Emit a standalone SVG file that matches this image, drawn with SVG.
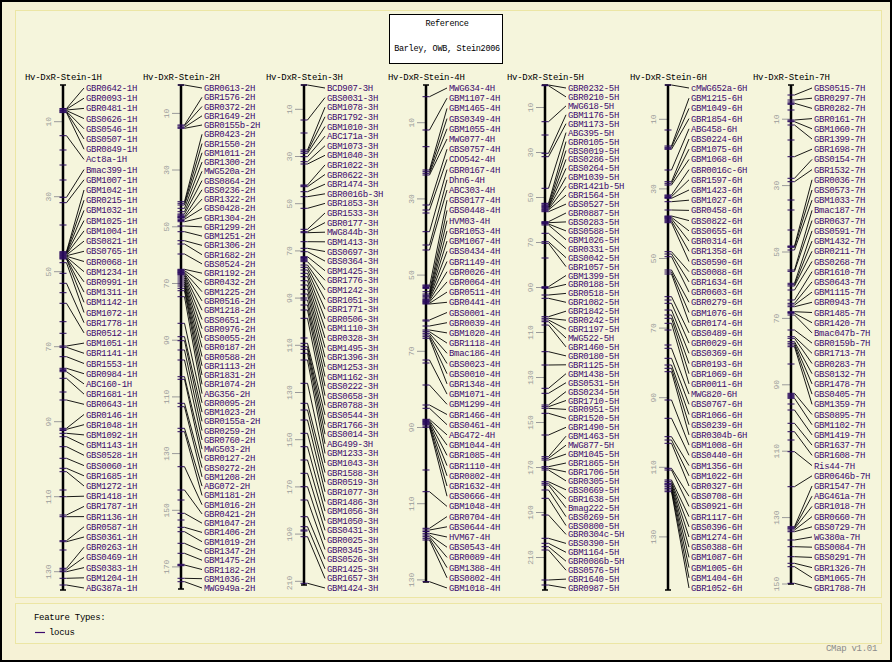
<svg xmlns="http://www.w3.org/2000/svg" width="892" height="662" viewBox="0 0 892 662">
<style>
text{font-family:"Liberation Mono","DejaVu Sans Mono",monospace;font-size:9px;letter-spacing:-0.3px}
.lb{fill:#3c0a6e}
.ttl{fill:#000}
.sm{font-size:8.5px}
.sc text{fill:#9a9a9a;font-size:8px;text-anchor:middle;letter-spacing:0}
.ax{stroke:#000;stroke-width:2.5;fill:none}
.cap{stroke:#000;stroke-width:1.5;fill:none}
.ft{stroke:#2a0a5e;stroke-width:1;fill:none}
.st{stroke:#9a9a9a;stroke-width:1;fill:none}
.cn path{stroke:#000;stroke-width:0.9;fill:none}
.pn{fill:#f5f5dc;stroke:#ece6a4;stroke-width:1}
</style>
<rect width="892" height="662" fill="#f6f2d6"/>
<rect x="1" y="1" width="890" height="660" fill="none" stroke="#000" stroke-width="2"/>
<rect class="pn" x="15.5" y="10.5" width="866" height="587"/>
<rect class="pn" x="15.5" y="603.5" width="866" height="40"/>
<g id="reference">
<rect x="389.5" y="14.5" width="113" height="49" fill="#fff" stroke="#000"/>
<text class="ttl sm" x="447" y="25.5" text-anchor="middle">Reference</text>
<text class="ttl sm" x="447" y="50.5" text-anchor="middle">Barley, OWB, Stein2006</text>
</g>
<g id="legend">
<text class="ttl" x="34" y="620">Feature Types:</text>
<path d="M35 632.5h10" stroke="#3c0a6e" stroke-width="1.2"/>
<text class="ttl" x="49" y="635">locus</text>
<text x="877" y="651" text-anchor="end" fill="#8a8a8a">CMap v1.01</text>
</g>

<g id="connectors" class="cn">
<path transform="translate(63,0)" d="M3.5 108.5L21 88M3.5 109.2L21 98.2M3.5 110L21 108.4M3.5 110.6L21 118.6M3.5 111.3L21 128.8M3.5 112L21 139M3.5 112.6L21 149.2M3.5 135.7L21 159.4M3.5 197.3L21 169.6M3.5 202.7L21 179.8M3.5 251.7L21 190M3.5 252.3L21 200.2M3.5 253L21 210.4M3.5 253.7L21 220.6M3.5 254.3L21 230.9M3.5 255L21 241.1M3.5 255.7L21 251.3M3.5 256.3L21 261.5M3.5 257L21 271.7M3.5 257.7L21 281.9M3.5 258.3L21 292.1M3.5 259L21 302.3M3.5 262.7L21 312.5M3.5 283.3L21 322.7M3.5 303.3L21 332.9M3.5 346L21 343.1M3.5 347.3L21 353.3M3.5 356.7L21 363.5M3.5 368.3L21 373.7M3.5 371.7L21 383.9M3.5 378.3L21 394.1M3.5 400L21 404.3M3.5 428.3L21 414.5M3.5 429.3L21 424.7M3.5 433.3L21 434.9M3.5 436.7L21 445.1M3.5 446.7L21 455.3M3.5 458.3L21 465.6M3.5 468.3L21 475.8M3.5 471.7L21 486M3.5 496.7L21 496.2M3.5 515L21 506.4M3.5 516.7L21 516.6M3.5 540.7L21 526.8M3.5 541.7L21 537M3.5 568.3L21 547.2M3.5 570L21 557.4M3.5 571.7L21 567.6M3.5 578.3L21 577.8M3.5 585L21 588"/>
<path transform="translate(181,0)" d="M3.5 85L21 88M3.5 125L21 97.3M3.5 126L21 106.5M3.5 127.3L21 115.8M3.5 128.3L21 125M3.5 201.7L21 134.3M3.5 203.3L21 143.6M3.5 205L21 152.8M3.5 208.3L21 162.1M3.5 211.7L21 171.3M3.5 214L21 180.6M3.5 216.7L21 189.8M3.5 218L21 199.1M3.5 219.3L21 208.4M3.5 221.7L21 217.6M3.5 226L21 226.9M3.5 231.7L21 236.1M3.5 240.7L21 245.4M3.5 244L21 254.7M3.5 254L21 263.9M3.5 269.3L21 273.2M3.5 270.7L21 282.4M3.5 272L21 291.7M3.5 273.3L21 300.9M3.5 274.7L21 310.2M3.5 276L21 319.5M3.5 278L21 328.7M3.5 280L21 338M3.5 282L21 347.3M3.5 284L21 356.5M3.5 286L21 365.8M3.5 288.3L21 375M3.5 290.7L21 384.3M3.5 296.7L21 393.6M3.5 323.3L21 402.8M3.5 336.7L21 412.1M3.5 340.7L21 421.3M3.5 350L21 430.6M3.5 360L21 439.9M3.5 376.7L21 449.1M3.5 379.3L21 458.4M3.5 403.3L21 467.6M3.5 406.7L21 476.9M3.5 428.3L21 486.1M3.5 431.7L21 495.4M3.5 466.7L21 504.7M3.5 490L21 513.9M3.5 513.3L21 523.2M3.5 527.3L21 532.4M3.5 531.7L21 541.7M3.5 543.3L21 551M3.5 553.3L21 560.2M3.5 565L21 569.5M3.5 578.3L21 578.7M3.5 581.7L21 588"/>
<path transform="translate(304,0)" d="M3.5 85L21 88M3.5 120L21 97.6M3.5 150L21 107.2M3.5 151.7L21 116.8M3.5 153.3L21 126.5M3.5 156.7L21 136.1M3.5 161.7L21 145.7M3.5 164L21 155.3M3.5 185L21 164.9M3.5 186.7L21 174.5M3.5 191.7L21 184.2M3.5 196.7L21 193.8M3.5 208.3L21 203.4M3.5 229.3L21 213M3.5 231.7L21 222.6M3.5 232.7L21 232.2M3.5 241.7L21 241.8M3.5 248.3L21 251.5M3.5 251.7L21 261.1M3.5 256.7L21 270.7M3.5 261.7L21 280.3M3.5 265L21 289.9M3.5 267.3L21 299.5M3.5 270L21 309.2M3.5 273.3L21 318.8M3.5 276.7L21 328.4M3.5 280.7L21 338M3.5 285L21 347.6M3.5 289.3L21 357.2M3.5 294L21 366.8M3.5 300L21 376.5M3.5 305L21 386.1M3.5 310L21 395.7M3.5 318.3L21 405.3M3.5 343.3L21 414.9M3.5 346.7L21 424.5M3.5 349.3L21 434.2M3.5 353.3L21 443.8M3.5 360L21 453.4M3.5 383.3L21 463M3.5 403.3L21 472.6M3.5 410L21 482.2M3.5 420L21 491.8M3.5 433.3L21 501.5M3.5 446.7L21 511.1M3.5 460L21 520.7M3.5 473.3L21 530.3M3.5 486.7L21 539.9M3.5 500L21 549.5M3.5 516.7L21 559.2M3.5 526.7L21 568.8M3.5 536.7L21 578.4M3.5 583.3L21 588"/>
<path transform="translate(426,0)" d="M3.5 96.7L21 88M3.5 130L21 98.2M3.5 170L21 108.4M3.5 171.7L21 118.6M3.5 173.3L21 128.8M3.5 175L21 139M3.5 205L21 149.2M3.5 210L21 159.4M3.5 231.7L21 169.6M3.5 245L21 179.8M3.5 250L21 190M3.5 286.7L21 200.2M3.5 291.7L21 210.4M3.5 294L21 220.6M3.5 295.3L21 230.9M3.5 296.7L21 241.1M3.5 298L21 251.3M3.5 299.3L21 261.5M3.5 300.7L21 271.7M3.5 302L21 281.9M3.5 303.3L21 292.1M3.5 304L21 302.3M3.5 320L21 312.5M3.5 326L21 322.7M3.5 330L21 332.9M3.5 331.7L21 343.1M3.5 333.3L21 353.3M3.5 335L21 363.5M3.5 336.7L21 373.7M3.5 338.3L21 383.9M3.5 360L21 394.1M3.5 385L21 404.3M3.5 405L21 414.5M3.5 408.3L21 424.7M3.5 419.3L21 434.9M3.5 420.7L21 445.1M3.5 422L21 455.3M3.5 423.3L21 465.6M3.5 424.7L21 475.8M3.5 426L21 486M3.5 427.3L21 496.2M3.5 491.7L21 506.4M3.5 528.3L21 516.6M3.5 530L21 526.8M3.5 533.3L21 537M3.5 535L21 547.2M3.5 536.7L21 557.4M3.5 538.3L21 567.6M3.5 540L21 577.8M3.5 581.7L21 588"/>
<path transform="translate(545,0)" d="M3.5 85L21 88M3.5 85.7L21 96.9M3.5 121.7L21 105.9M3.5 153.3L21 114.8M3.5 156.7L21 123.7M3.5 188.3L21 132.6M3.5 203.3L21 141.6M3.5 205L21 150.5M3.5 206.7L21 159.4M3.5 207.3L21 168.4M3.5 208.3L21 177.3M3.5 209.3L21 186.2M3.5 210L21 195.1M3.5 211.7L21 204.1M3.5 221.7L21 213M3.5 222.7L21 221.9M3.5 224L21 230.9M3.5 225L21 239.8M3.5 233.3L21 248.7M3.5 241.7L21 257.7M3.5 243.3L21 266.6M3.5 286.7L21 275.5M3.5 288.3L21 284.4M3.5 295L21 293.4M3.5 298.3L21 302.3M3.5 316.7L21 311.2M3.5 318.3L21 320.2M3.5 320L21 329.1M3.5 321.7L21 338M3.5 325L21 346.9M3.5 351.7L21 355.9M3.5 365L21 364.8M3.5 388.3L21 373.7M3.5 393.3L21 382.7M3.5 405L21 391.6M3.5 406.7L21 400.5M3.5 408.3L21 409.4M3.5 413.3L21 418.4M3.5 435L21 427.3M3.5 456.7L21 436.2M3.5 458.3L21 445.2M3.5 460L21 454.1M3.5 466.7L21 463M3.5 468.3L21 471.9M3.5 470L21 480.9M3.5 481.7L21 489.8M3.5 483.3L21 498.7M3.5 485L21 507.7M3.5 490L21 516.6M3.5 498.3L21 525.5M3.5 515L21 534.4M3.5 538.3L21 543.4M3.5 543.3L21 552.3M3.5 546.7L21 561.2M3.5 550L21 570.2M3.5 580L21 579.1M3.5 585L21 588"/>
<path transform="translate(668,0)" d="M3.5 85L21 88M3.5 146L21 98.2M3.5 147.3L21 108.4M3.5 149.3L21 118.6M3.5 170L21 128.8M3.5 181.7L21 139M3.5 183.3L21 149.2M3.5 185L21 159.4M3.5 195L21 169.6M3.5 196.7L21 179.8M3.5 198.3L21 190M3.5 201.7L21 200.2M3.5 210L21 210.4M3.5 216L21 220.6M3.5 217.3L21 230.9M3.5 218.7L21 241.1M3.5 220.7L21 251.3M3.5 222.7L21 261.5M3.5 251.7L21 271.7M3.5 254L21 281.9M3.5 256.7L21 292.1M3.5 270L21 302.3M3.5 272L21 312.5M3.5 274L21 322.7M3.5 296.7L21 332.9M3.5 303.3L21 343.1M3.5 310L21 353.3M3.5 315L21 363.5M3.5 318.3L21 373.7M3.5 323.3L21 383.9M3.5 348.3L21 394.1M3.5 358.3L21 404.3M3.5 365L21 414.5M3.5 368.3L21 424.7M3.5 371.7L21 434.9M3.5 400L21 445.1M3.5 418.3L21 455.3M3.5 436.7L21 465.6M3.5 440L21 475.8M3.5 443.3L21 486M3.5 468.3L21 496.2M3.5 470L21 506.4M3.5 480L21 516.6M3.5 481.7L21 526.8M3.5 483.3L21 537M3.5 485L21 547.2M3.5 486.7L21 557.4M3.5 488.3L21 567.6M3.5 490L21 577.8M3.5 491.7L21 588"/>
<path transform="translate(791,0)" d="M3.5 95L21 88M3.5 100L21 98.2M3.5 103.3L21 108.4M3.5 120L21 118.6M3.5 121.7L21 128.8M3.5 125L21 139M3.5 156.7L21 149.2M3.5 178.3L21 159.4M3.5 181.7L21 169.6M3.5 246L21 179.8M3.5 247.3L21 190M3.5 250L21 200.2M3.5 270L21 210.4M3.5 271.3L21 220.6M3.5 283.3L21 230.9M3.5 284.7L21 241.1M3.5 286L21 251.3M3.5 290L21 261.5M3.5 300L21 271.7M3.5 303.3L21 281.9M3.5 305L21 292.1M3.5 306.7L21 302.3M3.5 311.7L21 312.5M3.5 313.3L21 322.7M3.5 315L21 332.9M3.5 330L21 343.1M3.5 336.7L21 353.3M3.5 338.3L21 363.5M3.5 341.7L21 373.7M3.5 343.3L21 383.9M3.5 345L21 394.1M3.5 346.7L21 404.3M3.5 393.3L21 414.5M3.5 398.3L21 424.7M3.5 410L21 434.9M3.5 423.3L21 445.1M3.5 431.7L21 455.3M3.5 451.7L21 465.6M3.5 486.7L21 475.8M3.5 526.7L21 486M3.5 527.7L21 496.2M3.5 528.7L21 506.4M3.5 530L21 516.6M3.5 531.7L21 526.8M3.5 540L21 537M3.5 546.7L21 547.2M3.5 556.7L21 557.4M3.5 563.3L21 567.6M3.5 566.7L21 577.8M3.5 583.3L21 588"/>
</g>

<g id="map-1H" transform="translate(63,0)">
<text class="ttl" x="-38" y="80">Hv-DxR-Stein-1H</text>
<path class="st" d="M-9 121.7h9M-9 196.7h9M-9 271.7h9M-9 346.7h9M-9 421.7h9M-9 496.7h9M-9 571.7h9"/>
<g class="sc"><text x="-12" y="121.7" transform="rotate(-90 -12 121.7)">10</text><text x="-12" y="196.7" transform="rotate(-90 -12 196.7)">30</text><text x="-12" y="271.7" transform="rotate(-90 -12 271.7)">50</text><text x="-12" y="346.7" transform="rotate(-90 -12 346.7)">70</text><text x="-12" y="421.7" transform="rotate(-90 -12 421.7)">90</text><text x="-12" y="496.7" transform="rotate(-90 -12 496.7)">110</text><text x="-12" y="571.7" transform="rotate(-90 -12 571.7)">130</text></g>
<path class="ax" d="M0 85V590"/>
<path class="cap" d="M-3 85h6M-3 590h6"/>
<path class="ft" d="M-3.5 108.5h7M-3.5 109.2h7M-3.5 110h7M-3.5 110.6h7M-3.5 111.3h7M-3.5 112h7M-3.5 112.6h7M-3.5 135.7h7M-3.5 197.3h7M-3.5 202.7h7M-3.5 251.7h7M-3.5 252.3h7M-3.5 253h7M-3.5 253.7h7M-3.5 254.3h7M-3.5 255h7M-3.5 255.7h7M-3.5 256.3h7M-3.5 257h7M-3.5 257.7h7M-3.5 258.3h7M-3.5 259h7M-3.5 262.7h7M-3.5 283.3h7M-3.5 303.3h7M-3.5 346h7M-3.5 347.3h7M-3.5 356.7h7M-3.5 368.3h7M-3.5 369.3h7M-3.5 370.5h7M-3.5 371.7h7M-3.5 378.3h7M-3.5 400h7M-3.5 428.3h7M-3.5 429.3h7M-3.5 430.5h7M-3.5 433.3h7M-3.5 436.7h7M-3.5 446.7h7M-3.5 458.3h7M-3.5 468.3h7M-3.5 471.7h7M-3.5 496.7h7M-3.5 515h7M-3.5 516.7h7M-3.5 540.7h7M-3.5 541.7h7M-3.5 568.3h7M-3.5 570h7M-3.5 571.7h7M-3.5 578.3h7M-3.5 585h7M-3.5 150h7M-3.5 165h7M-3.5 180h7M-3.5 225h7M-3.5 273.3h7M-3.5 292.7h7M-3.5 321.7h7M-3.5 333.3h7M-3.5 392h7M-3.5 490h7M-3.5 550h7"/>
<text class="lb"><tspan x="23" y="91">GBR0642-1H</tspan><tspan x="23" y="101.2">GBR0093-1H</tspan><tspan x="23" y="111.4">GBR0481-1H</tspan><tspan x="23" y="121.6">GBS0626-1H</tspan><tspan x="23" y="131.8">GBS0546-1H</tspan><tspan x="23" y="142">GBS0507-1H</tspan><tspan x="23" y="152.2">GBR0849-1H</tspan><tspan x="23" y="162.4">Act8a-1H</tspan><tspan x="23" y="172.6">Bmac399-1H</tspan><tspan x="23" y="182.8">GBM1007-1H</tspan><tspan x="23" y="193">GBM1042-1H</tspan><tspan x="23" y="203.2">GBR0215-1H</tspan><tspan x="23" y="213.4">GBM1032-1H</tspan><tspan x="23" y="223.6">GBM1025-1H</tspan><tspan x="23" y="233.9">GBM1004-1H</tspan><tspan x="23" y="244.1">GBS0821-1H</tspan><tspan x="23" y="254.3">GBS0765-1H</tspan><tspan x="23" y="264.5">GBR0068-1H</tspan><tspan x="23" y="274.7">GBM1234-1H</tspan><tspan x="23" y="284.9">GBR0991-1H</tspan><tspan x="23" y="295.1">GBM1311-1H</tspan><tspan x="23" y="305.3">GBM1142-1H</tspan><tspan x="23" y="315.5">GBM1072-1H</tspan><tspan x="23" y="325.7">GBR1778-1H</tspan><tspan x="23" y="335.9">GBR0512-1H</tspan><tspan x="23" y="346.1">GBM1051-1H</tspan><tspan x="23" y="356.3">GBR1141-1H</tspan><tspan x="23" y="366.5">GBR1553-1H</tspan><tspan x="23" y="376.7">GBR0984-1H</tspan><tspan x="23" y="386.9">ABC160-1H</tspan><tspan x="23" y="397.1">GBR1681-1H</tspan><tspan x="23" y="407.3">GBR0643-1H</tspan><tspan x="23" y="417.5">GBR0146-1H</tspan><tspan x="23" y="427.7">GBR1048-1H</tspan><tspan x="23" y="437.9">GBM1092-1H</tspan><tspan x="23" y="448.1">GBM1143-1H</tspan><tspan x="23" y="458.3">GBS0528-1H</tspan><tspan x="23" y="468.6">GBS0060-1H</tspan><tspan x="23" y="478.8">GBR1685-1H</tspan><tspan x="23" y="489">GBM1272-1H</tspan><tspan x="23" y="499.2">GBR1418-1H</tspan><tspan x="23" y="509.4">GBR1787-1H</tspan><tspan x="23" y="519.6">GBR1136-1H</tspan><tspan x="23" y="529.8">GBR0587-1H</tspan><tspan x="23" y="540">GBS0361-1H</tspan><tspan x="23" y="550.2">GBR0263-1H</tspan><tspan x="23" y="560.4">GBS0469-1H</tspan><tspan x="23" y="570.6">GBS0383-1H</tspan><tspan x="23" y="580.8">GBM1204-1H</tspan><tspan x="23" y="591">ABG387a-1H</tspan></text>
</g>

<g id="map-2H" transform="translate(181,0)">
<text class="ttl" x="-38" y="80">Hv-DxR-Stein-2H</text>
<path class="st" d="M-9 113.4h9M-9 170h9M-9 226.8h9M-9 283.5h9M-9 340.2h9M-9 396.9h9M-9 453.6h9M-9 510.3h9M-9 566.9h9"/>
<g class="sc"><text x="-12" y="113.4" transform="rotate(-90 -12 113.4)">10</text><text x="-12" y="170" transform="rotate(-90 -12 170)">30</text><text x="-12" y="226.8" transform="rotate(-90 -12 226.8)">50</text><text x="-12" y="283.5" transform="rotate(-90 -12 283.5)">70</text><text x="-12" y="340.2" transform="rotate(-90 -12 340.2)">90</text><text x="-12" y="396.9" transform="rotate(-90 -12 396.9)">110</text><text x="-12" y="453.6" transform="rotate(-90 -12 453.6)">130</text><text x="-12" y="510.3" transform="rotate(-90 -12 510.3)">150</text><text x="-12" y="566.9" transform="rotate(-90 -12 566.9)">170</text></g>
<path class="ax" d="M0 85V589"/>
<path class="cap" d="M-3 85h6M-3 589h6"/>
<path class="ft" d="M-3.5 85h7M-3.5 125h7M-3.5 126h7M-3.5 127.3h7M-3.5 128.3h7M-3.5 201.7h7M-3.5 203.3h7M-3.5 205h7M-3.5 208.3h7M-3.5 211.7h7M-3.5 214h7M-3.5 215h7M-3.5 216h7M-3.5 216.7h7M-3.5 217.4h7M-3.5 218h7M-3.5 219.3h7M-3.5 220.5h7M-3.5 221.7h7M-3.5 226h7M-3.5 231.7h7M-3.5 240.7h7M-3.5 244h7M-3.5 254h7M-3.5 269.3h7M-3.5 270h7M-3.5 270.7h7M-3.5 271.3h7M-3.5 272h7M-3.5 272.6h7M-3.5 273.3h7M-3.5 274h7M-3.5 274.7h7M-3.5 276h7M-3.5 278h7M-3.5 280h7M-3.5 282h7M-3.5 284h7M-3.5 286h7M-3.5 288.3h7M-3.5 290.7h7M-3.5 296.7h7M-3.5 323.3h7M-3.5 336.7h7M-3.5 340.7h7M-3.5 350h7M-3.5 360h7M-3.5 376.7h7M-3.5 379.3h7M-3.5 403.3h7M-3.5 406.7h7M-3.5 428.3h7M-3.5 431.7h7M-3.5 466.7h7M-3.5 490h7M-3.5 513.3h7M-3.5 527.3h7M-3.5 531.7h7M-3.5 543.3h7M-3.5 553.3h7M-3.5 564.3h7M-3.5 565h7M-3.5 565.7h7M-3.5 578.3h7M-3.5 581.7h7M-3.5 500h7M-3.5 520h7"/>
<text class="lb"><tspan x="23" y="91">GBR0613-2H</tspan><tspan x="23" y="100.3">GBR1576-2H</tspan><tspan x="23" y="109.5">GBR0372-2H</tspan><tspan x="23" y="118.8">GBR1649-2H</tspan><tspan x="23" y="128">GBR0155b-2H</tspan><tspan x="23" y="137.3">GBR0423-2H</tspan><tspan x="23" y="146.6">GBR1550-2H</tspan><tspan x="23" y="155.8">GBM1011-2H</tspan><tspan x="23" y="165.1">GBR1300-2H</tspan><tspan x="23" y="174.3">MWG520a-2H</tspan><tspan x="23" y="183.6">GBS0864-2H</tspan><tspan x="23" y="192.8">GBS0236-2H</tspan><tspan x="23" y="202.1">GBR1322-2H</tspan><tspan x="23" y="211.4">GBS0428-2H</tspan><tspan x="23" y="220.6">GBR1304-2H</tspan><tspan x="23" y="229.9">GBR1299-2H</tspan><tspan x="23" y="239.1">GBM1251-2H</tspan><tspan x="23" y="248.4">GBR1306-2H</tspan><tspan x="23" y="257.7">GBR1682-2H</tspan><tspan x="23" y="266.9">GBS0524-2H</tspan><tspan x="23" y="276.2">GBR1192-2H</tspan><tspan x="23" y="285.4">GBR0432-2H</tspan><tspan x="23" y="294.7">GBM1225-2H</tspan><tspan x="23" y="303.9">GBR0516-2H</tspan><tspan x="23" y="313.2">GBM1218-2H</tspan><tspan x="23" y="322.5">GBS0651-2H</tspan><tspan x="23" y="331.7">GBR0976-2H</tspan><tspan x="23" y="341">GBS0055-2H</tspan><tspan x="23" y="350.3">GBR0187-2H</tspan><tspan x="23" y="359.5">GBR0588-2H</tspan><tspan x="23" y="368.8">GBR1113-2H</tspan><tspan x="23" y="378">GBR1831-2H</tspan><tspan x="23" y="387.3">GBR1074-2H</tspan><tspan x="23" y="396.6">ABG356-2H</tspan><tspan x="23" y="405.8">GBR0095-2H</tspan><tspan x="23" y="415.1">GBM1023-2H</tspan><tspan x="23" y="424.3">GBR0155a-2H</tspan><tspan x="23" y="433.6">GBR0259-2H</tspan><tspan x="23" y="442.9">GBR0760-2H</tspan><tspan x="23" y="452.1">MWG503-2H</tspan><tspan x="23" y="461.4">GBR0127-2H</tspan><tspan x="23" y="470.6">GBS0272-2H</tspan><tspan x="23" y="479.9">GBM1208-2H</tspan><tspan x="23" y="489.1">ABG072-2H</tspan><tspan x="23" y="498.4">GBM1181-2H</tspan><tspan x="23" y="507.7">GBM1016-2H</tspan><tspan x="23" y="516.9">GBR0421-2H</tspan><tspan x="23" y="526.2">GBM1047-2H</tspan><tspan x="23" y="535.4">GBR1406-2H</tspan><tspan x="23" y="544.7">GBM1019-2H</tspan><tspan x="23" y="554">GBR1347-2H</tspan><tspan x="23" y="563.2">GBM1475-2H</tspan><tspan x="23" y="572.5">GBR1182-2H</tspan><tspan x="23" y="581.7">GBM1036-2H</tspan><tspan x="23" y="591">MWG949a-2H</tspan></text>
</g>

<g id="map-3H" transform="translate(304,0)">
<text class="ttl" x="-38" y="80">Hv-DxR-Stein-3H</text>
<path class="st" d="M-9 109.3h9M-9 156.5h9M-9 203.7h9M-9 250.9h9M-9 298.1h9M-9 345.3h9M-9 392.5h9M-9 439.7h9M-9 486.9h9M-9 534.1h9M-9 581.3h9"/>
<g class="sc"><text x="-12" y="109.3" transform="rotate(-90 -12 109.3)">10</text><text x="-12" y="156.5" transform="rotate(-90 -12 156.5)">30</text><text x="-12" y="203.7" transform="rotate(-90 -12 203.7)">50</text><text x="-12" y="250.9" transform="rotate(-90 -12 250.9)">70</text><text x="-12" y="298.1" transform="rotate(-90 -12 298.1)">90</text><text x="-12" y="345.3" transform="rotate(-90 -12 345.3)">110</text><text x="-12" y="392.5" transform="rotate(-90 -12 392.5)">130</text><text x="-12" y="439.7" transform="rotate(-90 -12 439.7)">150</text><text x="-12" y="486.9" transform="rotate(-90 -12 486.9)">170</text><text x="-12" y="534.1" transform="rotate(-90 -12 534.1)">190</text><text x="-12" y="583" transform="rotate(-90 -12 583)">210</text></g>
<path class="ax" d="M0 85V585"/>
<path class="cap" d="M-3 85h6M-3 585h6"/>
<path class="ft" d="M-3.5 85h7M-3.5 120h7M-3.5 150h7M-3.5 151.7h7M-3.5 153.3h7M-3.5 156.7h7M-3.5 161.7h7M-3.5 164h7M-3.5 185h7M-3.5 185.8h7M-3.5 186.7h7M-3.5 191.7h7M-3.5 196.7h7M-3.5 208.3h7M-3.5 229.3h7M-3.5 231.7h7M-3.5 232.7h7M-3.5 241.7h7M-3.5 248.3h7M-3.5 251.7h7M-3.5 256.7h7M-3.5 257.5h7M-3.5 258.3h7M-3.5 259.1h7M-3.5 259.9h7M-3.5 260.7h7M-3.5 261.7h7M-3.5 265h7M-3.5 267.3h7M-3.5 270h7M-3.5 273.3h7M-3.5 276.7h7M-3.5 280.7h7M-3.5 285h7M-3.5 289.3h7M-3.5 294h7M-3.5 300h7M-3.5 305h7M-3.5 310h7M-3.5 318.3h7M-3.5 343.3h7M-3.5 346.7h7M-3.5 349.3h7M-3.5 353.3h7M-3.5 360h7M-3.5 383.3h7M-3.5 403.3h7M-3.5 410h7M-3.5 420h7M-3.5 433.3h7M-3.5 446.7h7M-3.5 460h7M-3.5 473.3h7M-3.5 486.7h7M-3.5 500h7M-3.5 516.7h7M-3.5 526.7h7M-3.5 530h7M-3.5 531h7M-3.5 536.7h7M-3.5 583.3h7M-3.5 133h7M-3.5 298h7M-3.5 338h7"/>
<text class="lb"><tspan x="23" y="91">BCD907-3H</tspan><tspan x="23" y="100.6">GBS0031-3H</tspan><tspan x="23" y="110.2">GBM1078-3H</tspan><tspan x="23" y="119.8">GBR1792-3H</tspan><tspan x="23" y="129.5">GBM1010-3H</tspan><tspan x="23" y="139.1">ABC171a-3H</tspan><tspan x="23" y="148.7">GBM1073-3H</tspan><tspan x="23" y="158.3">GBM1040-3H</tspan><tspan x="23" y="167.9">GBR1022-3H</tspan><tspan x="23" y="177.5">GBR0622-3H</tspan><tspan x="23" y="187.2">GBR1474-3H</tspan><tspan x="23" y="196.8">GBR0016b-3H</tspan><tspan x="23" y="206.4">GBR1853-3H</tspan><tspan x="23" y="216">GBR1533-3H</tspan><tspan x="23" y="225.6">GBR0177-3H</tspan><tspan x="23" y="235.2">MWG844b-3H</tspan><tspan x="23" y="244.8">GBM1413-3H</tspan><tspan x="23" y="254.5">GBS0697-3H</tspan><tspan x="23" y="264.1">GBS0364-3H</tspan><tspan x="23" y="273.7">GBM1425-3H</tspan><tspan x="23" y="283.3">GBR1776-3H</tspan><tspan x="23" y="292.9">GBM1242-3H</tspan><tspan x="23" y="302.5">GBR1051-3H</tspan><tspan x="23" y="312.2">GBR1771-3H</tspan><tspan x="23" y="321.8">GBR0506-3H</tspan><tspan x="23" y="331.4">GBM1110-3H</tspan><tspan x="23" y="341">GBR0328-3H</tspan><tspan x="23" y="350.6">GBM1495-3H</tspan><tspan x="23" y="360.2">GBR1396-3H</tspan><tspan x="23" y="369.8">GBM1253-3H</tspan><tspan x="23" y="379.5">GBM1162-3H</tspan><tspan x="23" y="389.1">GBS0222-3H</tspan><tspan x="23" y="398.7">GBS0658-3H</tspan><tspan x="23" y="408.3">GBR0788-3H</tspan><tspan x="23" y="417.9">GBS0544-3H</tspan><tspan x="23" y="427.5">GBR1766-3H</tspan><tspan x="23" y="437.2">GBS0014-3H</tspan><tspan x="23" y="446.8">ABG499-3H</tspan><tspan x="23" y="456.4">GBM1233-3H</tspan><tspan x="23" y="466">GBM1043-3H</tspan><tspan x="23" y="475.6">GBR1588-3H</tspan><tspan x="23" y="485.2">GBR0519-3H</tspan><tspan x="23" y="494.8">GBR1077-3H</tspan><tspan x="23" y="504.5">GBR1486-3H</tspan><tspan x="23" y="514.1">GBM1056-3H</tspan><tspan x="23" y="523.7">GBM1050-3H</tspan><tspan x="23" y="533.3">GBS0431-3H</tspan><tspan x="23" y="542.9">GBR0025-3H</tspan><tspan x="23" y="552.5">GBR0345-3H</tspan><tspan x="23" y="562.2">GBS0526-3H</tspan><tspan x="23" y="571.8">GBR1425-3H</tspan><tspan x="23" y="581.4">GBR1657-3H</tspan><tspan x="23" y="591">GBM1424-3H</tspan></text>
</g>

<g id="map-4H" transform="translate(426,0)">
<text class="ttl" x="-38" y="80">Hv-DxR-Stein-4H</text>
<path class="st" d="M-9 122.7h9M-9 198.9h9M-9 275.1h9M-9 351.3h9M-9 427.5h9M-9 503.7h9M-9 579.9h9"/>
<g class="sc"><text x="-12" y="122.7" transform="rotate(-90 -12 122.7)">10</text><text x="-12" y="198.9" transform="rotate(-90 -12 198.9)">30</text><text x="-12" y="275.1" transform="rotate(-90 -12 275.1)">50</text><text x="-12" y="351.3" transform="rotate(-90 -12 351.3)">70</text><text x="-12" y="427.5" transform="rotate(-90 -12 427.5)">90</text><text x="-12" y="503.7" transform="rotate(-90 -12 503.7)">110</text><text x="-12" y="579.9" transform="rotate(-90 -12 579.9)">130</text></g>
<path class="ax" d="M0 85V582"/>
<path class="cap" d="M-3 85h6M-3 582h6"/>
<path class="ft" d="M-3.5 96.7h7M-3.5 130h7M-3.5 170h7M-3.5 171.7h7M-3.5 173.3h7M-3.5 175h7M-3.5 205h7M-3.5 210h7M-3.5 231.7h7M-3.5 245h7M-3.5 250h7M-3.5 285h7M-3.5 285.8h7M-3.5 286.7h7M-3.5 287.5h7M-3.5 288.4h7M-3.5 291.7h7M-3.5 294h7M-3.5 295.3h7M-3.5 296.7h7M-3.5 298h7M-3.5 299.3h7M-3.5 300h7M-3.5 300.7h7M-3.5 301.4h7M-3.5 302h7M-3.5 302.7h7M-3.5 303.3h7M-3.5 304h7M-3.5 320h7M-3.5 321h7M-3.5 326h7M-3.5 330h7M-3.5 331.7h7M-3.5 333.3h7M-3.5 335h7M-3.5 336.7h7M-3.5 338.3h7M-3.5 360h7M-3.5 385h7M-3.5 405h7M-3.5 408.3h7M-3.5 419.3h7M-3.5 420h7M-3.5 420.7h7M-3.5 421.4h7M-3.5 422h7M-3.5 422.7h7M-3.5 423.3h7M-3.5 424h7M-3.5 424.7h7M-3.5 426h7M-3.5 427.3h7M-3.5 491.7h7M-3.5 528.3h7M-3.5 530h7M-3.5 531.5h7M-3.5 533.3h7M-3.5 535h7M-3.5 536.7h7M-3.5 538.3h7M-3.5 540h7M-3.5 581.7h7M-3.5 146.7h7M-3.5 213h7M-3.5 363h7M-3.5 470h7"/>
<text class="lb"><tspan x="23" y="91">MWG634-4H</tspan><tspan x="23" y="101.2">GBM1107-4H</tspan><tspan x="23" y="111.4">GBM1465-4H</tspan><tspan x="23" y="121.6">GBS0349-4H</tspan><tspan x="23" y="131.8">GBM1055-4H</tspan><tspan x="23" y="142">MWG077-4H</tspan><tspan x="23" y="152.2">GBS0757-4H</tspan><tspan x="23" y="162.4">CDO542-4H</tspan><tspan x="23" y="172.6">GBR0167-4H</tspan><tspan x="23" y="182.8">Dhn6-4H</tspan><tspan x="23" y="193">ABC303-4H</tspan><tspan x="23" y="203.2">GBS0177-4H</tspan><tspan x="23" y="213.4">GBS0448-4H</tspan><tspan x="23" y="223.6">HVM03-4H</tspan><tspan x="23" y="233.9">GBR1053-4H</tspan><tspan x="23" y="244.1">GBM1067-4H</tspan><tspan x="23" y="254.3">GBS0434-4H</tspan><tspan x="23" y="264.5">GBR1149-4H</tspan><tspan x="23" y="274.7">GBR0026-4H</tspan><tspan x="23" y="284.9">GBR0064-4H</tspan><tspan x="23" y="295.1">GBR0511-4H</tspan><tspan x="23" y="305.3">GBR0441-4H</tspan><tspan x="23" y="315.5">GBS0001-4H</tspan><tspan x="23" y="325.7">GBR0039-4H</tspan><tspan x="23" y="335.9">GBM1020-4H</tspan><tspan x="23" y="346.1">GBR1118-4H</tspan><tspan x="23" y="356.3">Bmac186-4H</tspan><tspan x="23" y="366.5">GBS0023-4H</tspan><tspan x="23" y="376.7">GBS0010-4H</tspan><tspan x="23" y="386.9">GBR1348-4H</tspan><tspan x="23" y="397.1">GBM1071-4H</tspan><tspan x="23" y="407.3">GBM1299-4H</tspan><tspan x="23" y="417.5">GBR1466-4H</tspan><tspan x="23" y="427.7">GBS0461-4H</tspan><tspan x="23" y="437.9">ABG472-4H</tspan><tspan x="23" y="448.1">GBM1044-4H</tspan><tspan x="23" y="458.3">GBR1085-4H</tspan><tspan x="23" y="468.6">GBR1110-4H</tspan><tspan x="23" y="478.8">GBR0802-4H</tspan><tspan x="23" y="489">GBR1632-4H</tspan><tspan x="23" y="499.2">GBS0666-4H</tspan><tspan x="23" y="509.4">GBM1048-4H</tspan><tspan x="23" y="519.6">GBR0704-4H</tspan><tspan x="23" y="529.8">GBS0644-4H</tspan><tspan x="23" y="540">HVM67-4H</tspan><tspan x="23" y="550.2">GBS0543-4H</tspan><tspan x="23" y="560.4">GBR0089-4H</tspan><tspan x="23" y="570.6">GBM1388-4H</tspan><tspan x="23" y="580.8">GBS0802-4H</tspan><tspan x="23" y="591">GBM1018-4H</tspan></text>
</g>

<g id="map-5H" transform="translate(545,0)">
<text class="ttl" x="-38" y="80">Hv-DxR-Stein-5H</text>
<path class="st" d="M-9 107.5h9M-9 152.5h9M-9 197.5h9M-9 242.5h9M-9 287.5h9M-9 332.5h9M-9 377.5h9M-9 422.5h9M-9 467.5h9M-9 512.5h9M-9 557.5h9"/>
<g class="sc"><text x="-12" y="107.5" transform="rotate(-90 -12 107.5)">10</text><text x="-12" y="152.5" transform="rotate(-90 -12 152.5)">30</text><text x="-12" y="197.5" transform="rotate(-90 -12 197.5)">50</text><text x="-12" y="242.5" transform="rotate(-90 -12 242.5)">70</text><text x="-12" y="287.5" transform="rotate(-90 -12 287.5)">90</text><text x="-12" y="332.5" transform="rotate(-90 -12 332.5)">110</text><text x="-12" y="377.5" transform="rotate(-90 -12 377.5)">130</text><text x="-12" y="422.5" transform="rotate(-90 -12 422.5)">150</text><text x="-12" y="467.5" transform="rotate(-90 -12 467.5)">170</text><text x="-12" y="512.5" transform="rotate(-90 -12 512.5)">190</text><text x="-12" y="557.5" transform="rotate(-90 -12 557.5)">210</text></g>
<path class="ax" d="M0 85V590"/>
<path class="cap" d="M-3 85h6M-3 590h6"/>
<path class="ft" d="M-3.5 85h7M-3.5 85.7h7M-3.5 121.7h7M-3.5 153.3h7M-3.5 156.7h7M-3.5 188.3h7M-3.5 203.3h7M-3.5 204h7M-3.5 205h7M-3.5 205.8h7M-3.5 206.7h7M-3.5 207.3h7M-3.5 208.3h7M-3.5 209.3h7M-3.5 210h7M-3.5 210.8h7M-3.5 211.7h7M-3.5 221.7h7M-3.5 222.2h7M-3.5 222.7h7M-3.5 223.4h7M-3.5 224h7M-3.5 225h7M-3.5 233.3h7M-3.5 241.7h7M-3.5 243.3h7M-3.5 286.7h7M-3.5 287.5h7M-3.5 288.3h7M-3.5 295h7M-3.5 298.3h7M-3.5 316.7h7M-3.5 318.3h7M-3.5 320h7M-3.5 321.7h7M-3.5 325h7M-3.5 351.7h7M-3.5 365h7M-3.5 388.3h7M-3.5 393.3h7M-3.5 405h7M-3.5 406.7h7M-3.5 408.3h7M-3.5 413.3h7M-3.5 435h7M-3.5 456.7h7M-3.5 458.3h7M-3.5 460h7M-3.5 466.7h7M-3.5 468.3h7M-3.5 470h7M-3.5 481.7h7M-3.5 483.3h7M-3.5 485h7M-3.5 490h7M-3.5 498.3h7M-3.5 515h7M-3.5 538.3h7M-3.5 543.3h7M-3.5 546.7h7M-3.5 550h7M-3.5 580h7M-3.5 585h7M-3.5 135h7M-3.5 258h7"/>
<text class="lb"><tspan x="23" y="91">GBR0232-5H</tspan><tspan x="23" y="99.9">GBR0210-5H</tspan><tspan x="23" y="108.9">MWG618-5H</tspan><tspan x="23" y="117.8">GBM1176-5H</tspan><tspan x="23" y="126.7">GBM1173-5H</tspan><tspan x="23" y="135.6">ABG395-5H</tspan><tspan x="23" y="144.6">GBR0105-5H</tspan><tspan x="23" y="153.5">GBS0019-5H</tspan><tspan x="23" y="162.4">GBS0286-5H</tspan><tspan x="23" y="171.4">GBS0264-5H</tspan><tspan x="23" y="180.3">GBM1039-5H</tspan><tspan x="23" y="189.2">GBR1421b-5H</tspan><tspan x="23" y="198.1">GBR1564-5H</tspan><tspan x="23" y="207.1">GBS0527-5H</tspan><tspan x="23" y="216">GBR0887-5H</tspan><tspan x="23" y="224.9">GBS0283-5H</tspan><tspan x="23" y="233.9">GBS0588-5H</tspan><tspan x="23" y="242.8">GBM1026-5H</tspan><tspan x="23" y="251.7">GBR0331-5H</tspan><tspan x="23" y="260.7">GBS0042-5H</tspan><tspan x="23" y="269.6">GBR1057-5H</tspan><tspan x="23" y="278.5">GBM1399-5H</tspan><tspan x="23" y="287.4">GBR0188-5H</tspan><tspan x="23" y="296.4">GBR0518-5H</tspan><tspan x="23" y="305.3">GBR1082-5H</tspan><tspan x="23" y="314.2">GBR1842-5H</tspan><tspan x="23" y="323.2">GBR0242-5H</tspan><tspan x="23" y="332.1">GBR1197-5H</tspan><tspan x="23" y="341">MWG522-5H</tspan><tspan x="23" y="349.9">GBR1460-5H</tspan><tspan x="23" y="358.9">GBR0180-5H</tspan><tspan x="23" y="367.8">GBR1125-5H</tspan><tspan x="23" y="376.7">GBM1438-5H</tspan><tspan x="23" y="385.7">GBS0531-5H</tspan><tspan x="23" y="394.6">GBS0234-5H</tspan><tspan x="23" y="403.5">GBR1710-5H</tspan><tspan x="23" y="412.4">GBR0951-5H</tspan><tspan x="23" y="421.4">GBR1520-5H</tspan><tspan x="23" y="430.3">GBR1490-5H</tspan><tspan x="23" y="439.2">GBM1463-5H</tspan><tspan x="23" y="448.2">MWG877-5H</tspan><tspan x="23" y="457.1">GBM1045-5H</tspan><tspan x="23" y="466">GBR1865-5H</tspan><tspan x="23" y="474.9">GBR1706-5H</tspan><tspan x="23" y="483.9">GBR0305-5H</tspan><tspan x="23" y="492.8">GBS0669-5H</tspan><tspan x="23" y="501.7">GBR1638-5H</tspan><tspan x="23" y="510.7">Bmag222-5H</tspan><tspan x="23" y="519.6">GBS0269-5H</tspan><tspan x="23" y="528.5">GBS0800-5H</tspan><tspan x="23" y="537.4">GBR0304c-5H</tspan><tspan x="23" y="546.4">GBS0390-5H</tspan><tspan x="23" y="555.3">GBM1164-5H</tspan><tspan x="23" y="564.2">GBR0086b-5H</tspan><tspan x="23" y="573.2">GBS0576-5H</tspan><tspan x="23" y="582.1">GBR1640-5H</tspan><tspan x="23" y="591">GBR0987-5H</tspan></text>
</g>

<g id="map-6H" transform="translate(668,0)">
<text class="ttl" x="-38" y="80">Hv-DxR-Stein-6H</text>
<path class="st" d="M-9 119.3h9M-9 188.9h9M-9 258.5h9M-9 328.1h9M-9 397.7h9M-9 467.3h9M-9 536.9h9"/>
<g class="sc"><text x="-12" y="119.3" transform="rotate(-90 -12 119.3)">10</text><text x="-12" y="188.9" transform="rotate(-90 -12 188.9)">30</text><text x="-12" y="258.5" transform="rotate(-90 -12 258.5)">50</text><text x="-12" y="328.1" transform="rotate(-90 -12 328.1)">70</text><text x="-12" y="397.7" transform="rotate(-90 -12 397.7)">90</text><text x="-12" y="467.3" transform="rotate(-90 -12 467.3)">110</text><text x="-12" y="536.9" transform="rotate(-90 -12 536.9)">130</text></g>
<path class="ax" d="M0 85V590"/>
<path class="cap" d="M-3 85h6M-3 590h6"/>
<path class="ft" d="M-3.5 85h7M-3.5 146h7M-3.5 147.3h7M-3.5 148.3h7M-3.5 149.3h7M-3.5 170h7M-3.5 181.7h7M-3.5 183.3h7M-3.5 185h7M-3.5 195h7M-3.5 195.8h7M-3.5 196.7h7M-3.5 197.5h7M-3.5 198.3h7M-3.5 201.7h7M-3.5 210h7M-3.5 216h7M-3.5 216.7h7M-3.5 217.3h7M-3.5 218h7M-3.5 218.7h7M-3.5 219.7h7M-3.5 220.7h7M-3.5 221.7h7M-3.5 222.7h7M-3.5 251.7h7M-3.5 254h7M-3.5 256.7h7M-3.5 270h7M-3.5 272h7M-3.5 274h7M-3.5 296.7h7M-3.5 303.3h7M-3.5 310h7M-3.5 315h7M-3.5 318.3h7M-3.5 323.3h7M-3.5 348.3h7M-3.5 358.3h7M-3.5 365h7M-3.5 368.3h7M-3.5 371.7h7M-3.5 400h7M-3.5 418.3h7M-3.5 436.7h7M-3.5 440h7M-3.5 443.3h7M-3.5 468.3h7M-3.5 470h7M-3.5 480h7M-3.5 481.7h7M-3.5 483.3h7M-3.5 484.2h7M-3.5 485h7M-3.5 486.7h7M-3.5 488.3h7M-3.5 490h7M-3.5 491.7h7M-3.5 130h7M-3.5 300h7M-3.5 330h7M-3.5 345h7"/>
<text class="lb"><tspan x="23" y="91">cMWG652a-6H</tspan><tspan x="23" y="101.2">GBM1215-6H</tspan><tspan x="23" y="111.4">GBM1049-6H</tspan><tspan x="23" y="121.6">GBR1854-6H</tspan><tspan x="23" y="131.8">ABG458-6H</tspan><tspan x="23" y="142">GBS0224-6H</tspan><tspan x="23" y="152.2">GBM1075-6H</tspan><tspan x="23" y="162.4">GBM1068-6H</tspan><tspan x="23" y="172.6">GBR0016c-6H</tspan><tspan x="23" y="182.8">GBR1597-6H</tspan><tspan x="23" y="193">GBM1423-6H</tspan><tspan x="23" y="203.2">GBM1027-6H</tspan><tspan x="23" y="213.4">GBR0458-6H</tspan><tspan x="23" y="223.6">GBS0822-6H</tspan><tspan x="23" y="233.9">GBS0655-6H</tspan><tspan x="23" y="244.1">GBR0314-6H</tspan><tspan x="23" y="254.3">GBR1358-6H</tspan><tspan x="23" y="264.5">GBS0590-6H</tspan><tspan x="23" y="274.7">GBS0088-6H</tspan><tspan x="23" y="284.9">GBR1634-6H</tspan><tspan x="23" y="295.1">GBR0603-6H</tspan><tspan x="23" y="305.3">GBR0279-6H</tspan><tspan x="23" y="315.5">GBM1076-6H</tspan><tspan x="23" y="325.7">GBR0174-6H</tspan><tspan x="23" y="335.9">GBS0489-6H</tspan><tspan x="23" y="346.1">GBR0029-6H</tspan><tspan x="23" y="356.3">GBS0369-6H</tspan><tspan x="23" y="366.5">GBR0193-6H</tspan><tspan x="23" y="376.7">GBR1069-6H</tspan><tspan x="23" y="386.9">GBR0011-6H</tspan><tspan x="23" y="397.1">MWG820-6H</tspan><tspan x="23" y="407.3">GBS0767-6H</tspan><tspan x="23" y="417.5">GBR1066-6H</tspan><tspan x="23" y="427.7">GBS0239-6H</tspan><tspan x="23" y="437.9">GBR0304b-6H</tspan><tspan x="23" y="448.1">GBM1008-6H</tspan><tspan x="23" y="458.3">GBS0440-6H</tspan><tspan x="23" y="468.6">GBM1356-6H</tspan><tspan x="23" y="478.8">GBM1022-6H</tspan><tspan x="23" y="489">GBR0327-6H</tspan><tspan x="23" y="499.2">GBS0708-6H</tspan><tspan x="23" y="509.4">GBS0921-6H</tspan><tspan x="23" y="519.6">GBR1117-6H</tspan><tspan x="23" y="529.8">GBS0396-6H</tspan><tspan x="23" y="540">GBM1274-6H</tspan><tspan x="23" y="550.2">GBS0388-6H</tspan><tspan x="23" y="560.4">GBM1087-6H</tspan><tspan x="23" y="570.6">GBM1005-6H</tspan><tspan x="23" y="580.8">GBM1404-6H</tspan><tspan x="23" y="591">GBR1052-6H</tspan></text>
</g>

<g id="map-7H" transform="translate(791,0)">
<text class="ttl" x="-38" y="80">Hv-DxR-Stein-7H</text>
<path class="st" d="M-9 119.2h9M-9 185.6h9M-9 252h9M-9 318.4h9M-9 384.8h9M-9 451.2h9M-9 517.6h9M-9 584h9"/>
<g class="sc"><text x="-12" y="119.2" transform="rotate(-90 -12 119.2)">10</text><text x="-12" y="185.6" transform="rotate(-90 -12 185.6)">30</text><text x="-12" y="252" transform="rotate(-90 -12 252)">50</text><text x="-12" y="318.4" transform="rotate(-90 -12 318.4)">70</text><text x="-12" y="384.8" transform="rotate(-90 -12 384.8)">90</text><text x="-12" y="451.2" transform="rotate(-90 -12 451.2)">110</text><text x="-12" y="517.6" transform="rotate(-90 -12 517.6)">130</text><text x="-12" y="584" transform="rotate(-90 -12 584)">150</text></g>
<path class="ax" d="M0 85V584"/>
<path class="cap" d="M-3 85h6M-3 584h6"/>
<path class="ft" d="M-3.5 95h7M-3.5 100h7M-3.5 102h7M-3.5 103.3h7M-3.5 104.3h7M-3.5 120h7M-3.5 121h7M-3.5 121.7h7M-3.5 125h7M-3.5 156.7h7M-3.5 178.3h7M-3.5 181.7h7M-3.5 246h7M-3.5 246.7h7M-3.5 247.3h7M-3.5 250h7M-3.5 270h7M-3.5 271.3h7M-3.5 283.3h7M-3.5 284.7h7M-3.5 286h7M-3.5 290h7M-3.5 300h7M-3.5 303.3h7M-3.5 305h7M-3.5 306.7h7M-3.5 311.7h7M-3.5 312.5h7M-3.5 313.3h7M-3.5 315h7M-3.5 330h7M-3.5 336.7h7M-3.5 338.3h7M-3.5 341.7h7M-3.5 343.3h7M-3.5 345h7M-3.5 346.7h7M-3.5 393.3h7M-3.5 394.3h7M-3.5 395.3h7M-3.5 396.3h7M-3.5 397.3h7M-3.5 398.3h7M-3.5 410h7M-3.5 423.3h7M-3.5 431.7h7M-3.5 451.7h7M-3.5 486.7h7M-3.5 526.7h7M-3.5 527.7h7M-3.5 528.7h7M-3.5 530h7M-3.5 531.7h7M-3.5 540h7M-3.5 546.7h7M-3.5 556.7h7M-3.5 563.3h7M-3.5 566.7h7M-3.5 583.3h7M-3.5 110h7M-3.5 140h7M-3.5 200h7M-3.5 210h7M-3.5 230h7M-3.5 364h7M-3.5 404h7M-3.5 440h7"/>
<text class="lb"><tspan x="23" y="91">GBS0515-7H</tspan><tspan x="23" y="101.2">GBR0297-7H</tspan><tspan x="23" y="111.4">GBR0282-7H</tspan><tspan x="23" y="121.6">GBR0161-7H</tspan><tspan x="23" y="131.8">GBM1060-7H</tspan><tspan x="23" y="142">GBR1399-7H</tspan><tspan x="23" y="152.2">GBR1698-7H</tspan><tspan x="23" y="162.4">GBS0154-7H</tspan><tspan x="23" y="172.6">GBR1532-7H</tspan><tspan x="23" y="182.8">GBR0036-7H</tspan><tspan x="23" y="193">GBS0573-7H</tspan><tspan x="23" y="203.2">GBM1033-7H</tspan><tspan x="23" y="213.4">Bmac187-7H</tspan><tspan x="23" y="223.6">GBR0637-7H</tspan><tspan x="23" y="233.9">GBS0591-7H</tspan><tspan x="23" y="244.1">GBM1432-7H</tspan><tspan x="23" y="254.3">GBR0211-7H</tspan><tspan x="23" y="264.5">GBS0268-7H</tspan><tspan x="23" y="274.7">GBR1610-7H</tspan><tspan x="23" y="284.9">GBS0643-7H</tspan><tspan x="23" y="295.1">GBM1115-7H</tspan><tspan x="23" y="305.3">GBR0943-7H</tspan><tspan x="23" y="315.5">GBR1485-7H</tspan><tspan x="23" y="325.7">GBR1420-7H</tspan><tspan x="23" y="335.9">Bmac047b-7H</tspan><tspan x="23" y="346.1">GBR0159b-7H</tspan><tspan x="23" y="356.3">GBR1713-7H</tspan><tspan x="23" y="366.5">GBR0283-7H</tspan><tspan x="23" y="376.7">GBS0132-7H</tspan><tspan x="23" y="386.9">GBR1478-7H</tspan><tspan x="23" y="397.1">GBS0405-7H</tspan><tspan x="23" y="407.3">GBM1359-7H</tspan><tspan x="23" y="417.5">GBS0895-7H</tspan><tspan x="23" y="427.7">GBM1102-7H</tspan><tspan x="23" y="437.9">GBM1419-7H</tspan><tspan x="23" y="448.1">GBR1637-7H</tspan><tspan x="23" y="458.3">GBR1608-7H</tspan><tspan x="23" y="468.6">Ris44-7H</tspan><tspan x="23" y="478.8">GBR0646b-7H</tspan><tspan x="23" y="489">GBR1547-7H</tspan><tspan x="23" y="499.2">ABG461a-7H</tspan><tspan x="23" y="509.4">GBR1018-7H</tspan><tspan x="23" y="519.6">GBR0660-7H</tspan><tspan x="23" y="529.8">GBS0729-7H</tspan><tspan x="23" y="540">WG380a-7H</tspan><tspan x="23" y="550.2">GBS0084-7H</tspan><tspan x="23" y="560.4">GBS0291-7H</tspan><tspan x="23" y="570.6">GBR1326-7H</tspan><tspan x="23" y="580.8">GBM1065-7H</tspan><tspan x="23" y="591">GBR1788-7H</tspan></text>
</g>
</svg>
